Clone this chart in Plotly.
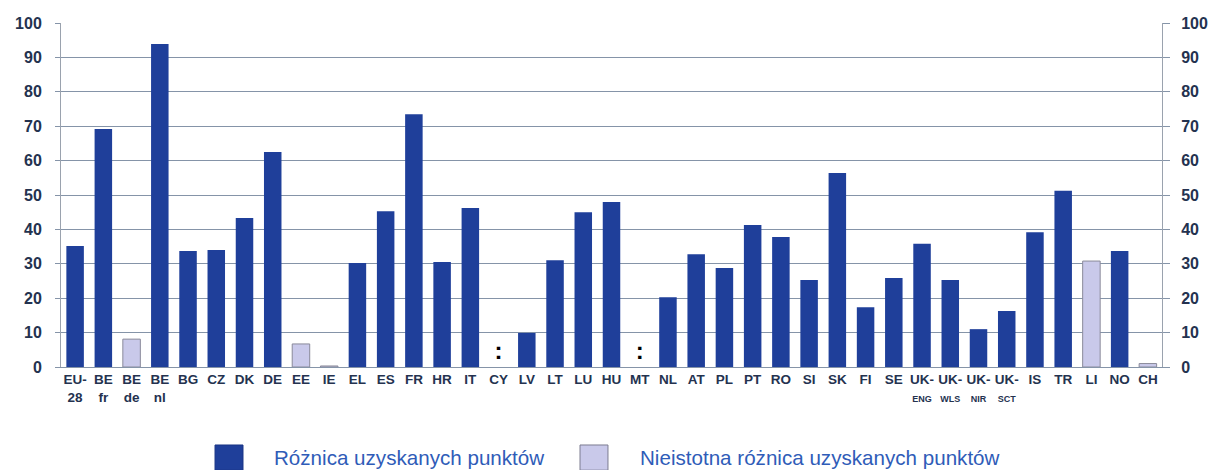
import plotly.graph_objects as go

categories = ["EU-28", "BE fr", "BE de", "BE nl", "BG", "CZ", "DK", "DE", "EE", "IE", "EL", "ES",
              "FR", "HR", "IT", "CY", "LV", "LT", "LU", "HU", "MT", "NL", "AT", "PL", "PT", "RO",
              "SI", "SK", "FI", "SE", "UK-ENG", "UK-WLS", "UK-NIR", "UK-SCT", "IS", "TR", "LI", "NO", "CH"]
tick_labels = ["EU-<br>28", "BE<br>fr", "BE<br>de", "BE<br>nl", "BG", "CZ", "DK", "DE", "EE", "IE", "EL", "ES",
               "FR", "HR", "IT", "CY", "LV", "LT", "LU", "HU", "MT", "NL", "AT", "PL", "PT", "RO",
               "SI", "SK", "FI", "SE",
               "UK-<br><span style='font-size:9px'>ENG</span>",
               "UK-<br><span style='font-size:9px'>WLS</span>",
               "UK-<br><span style='font-size:9px'>NIR</span>",
               "UK-<br><span style='font-size:9px'>SCT</span>",
               "IS", "TR", "LI", "NO", "CH"]
# None = not available (":")
values = [35.2, 69.2, 8.1, 93.9, 33.7, 34.0, 43.3, 62.5, 6.7, 0.3, 30.2, 45.3,
          73.5, 30.5, 46.2, None, 9.9, 31.0, 45.0, 48.0, None, 20.3, 32.8, 28.8, 41.3, 37.8,
          25.3, 56.4, 17.4, 25.9, 35.8, 25.3, 11.0, 16.3, 39.2, 51.2, 30.8, 33.7, 1.0]
significant = [True, True, False, True, True, True, True, True, False, False, True, True,
               True, True, True, True, True, True, True, True, True, True, True, True, True, True,
               True, True, True, True, True, True, True, True, True, True, False, True, False]
series_names = ["Różnica uzyskanych punktów", "Nieistotna różnica uzyskanych punktów"]
y_ticks = [0, 10, 20, 30, 40, 50, 60, 70, 80, 90, 100]

DARK = "#1f3f9a"
LIGHT = "#c9c9ea"
TXT = "#24324f"
GRID = "#8594a8"

sig_y = [v if s else None for v, s in zip(values, significant)]
ins_y = [v if not s else None for v, s in zip(values, significant)]
na_x = [c for c, v in zip(categories, values) if v is None]

fig = go.Figure()
fig.add_trace(go.Bar(x=categories, y=sig_y, name=series_names[0], marker=dict(color=DARK, line=dict(width=0)),
                     showlegend=False))
fig.add_trace(go.Bar(x=categories, y=ins_y, name=series_names[1],
                     marker=dict(color=LIGHT, line=dict(color="#8a8a9a", width=1)), showlegend=False))
fig.add_trace(go.Scatter(x=na_x, y=[4.2] * len(na_x), mode="text", text=[":"] * len(na_x),
                         textfont=dict(family="Liberation Sans", size=24, color="black", weight="bold"),
                         showlegend=False, textposition="middle center"))
# invisible trace on secondary axis
fig.add_trace(go.Scatter(x=[categories[0]], y=[0], yaxis="y2", mode="markers",
                         marker=dict(opacity=0), showlegend=False, hoverinfo="skip"))

axis_font = dict(family="Liberation Sans", size=16, color=TXT, weight="bold")
fig.update_layout(
    width=1208, height=462,
    margin=dict(l=53, r=54, t=15, b=103, autoexpand=False),
    paper_bgcolor="white", plot_bgcolor="white",
    barmode="overlay", bargap=0.38,
    font=dict(family="Liberation Sans"),
    xaxis=dict(categoryorder="array", categoryarray=categories, tickmode="array",
               tickvals=categories, ticktext=tick_labels, tickangle=0,
               tickfont=dict(family="Liberation Sans", size=13.5, color=TXT, weight="bold"),
               showline=True, linecolor=GRID, linewidth=1, ticks="", showgrid=False,
               range=[-0.5, len(categories) - 0.5], automargin=False),
    yaxis=dict(range=[0, 100], tickvals=y_ticks, tickfont=axis_font, showgrid=True,
               gridcolor=GRID, gridwidth=1.2, showline=True, linecolor="#9aa2ae",
               ticks="outside", ticklen=5, tickcolor=GRID, zeroline=False,
               ticklabelstandoff=10, automargin=False),
    yaxis2=dict(range=[0, 100], tickvals=y_ticks, tickfont=axis_font, overlaying="y", side="right",
                showgrid=False, showline=True, linecolor="#9aa2ae", ticks="outside", ticklen=7,
                tickcolor=GRID, zeroline=False, ticklabelstandoff=8, automargin=False),
)

# custom legend (paper coordinates relative to the plot area)
items = [(0.1399, 0.1653, 0.1916, DARK, "#1a3585", series_names[0]),
         (0.4714, 0.4968, 0.5240, LIGHT, "#7c7c90", series_names[1])]
for x0, x1, xt, col, lc, name in items:
    fig.add_shape(type="rect", xref="paper", yref="paper",
                  x0=x0, x1=x1, y0=-0.30, y1=-0.2267,
                  fillcolor=col, line=dict(color=lc, width=1))
    fig.add_annotation(xref="paper", yref="paper", x=xt, y=-0.2645, xanchor="left", yanchor="middle",
                       text=name, showarrow=False,
                       font=dict(family="Liberation Sans", size=20.6, color="#2f5cb8"))

fig.write_html("out.html")
